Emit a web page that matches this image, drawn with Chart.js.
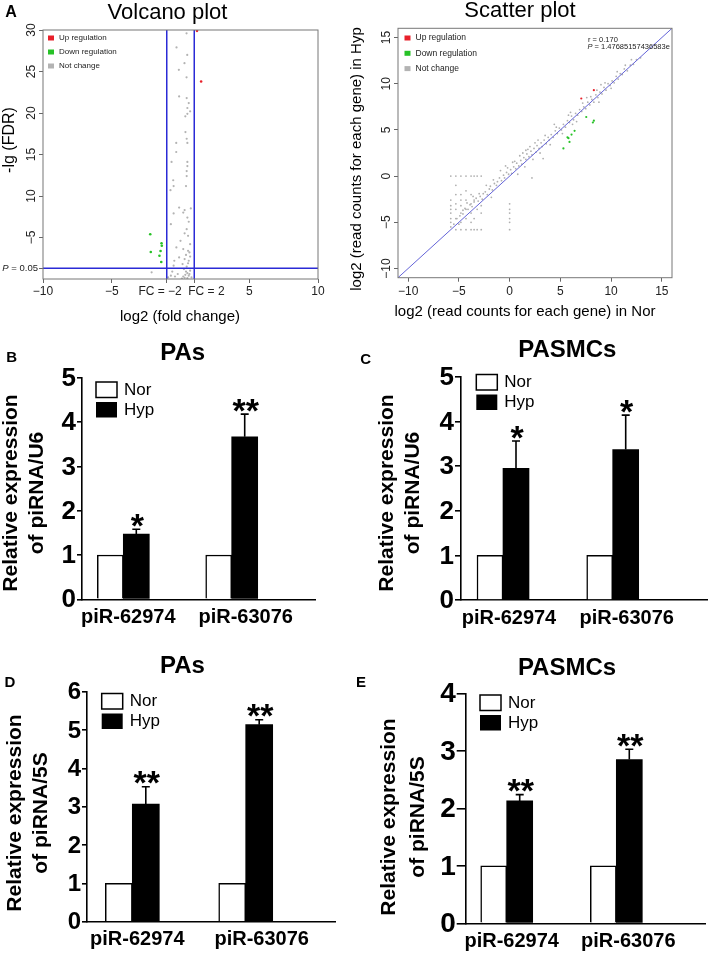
<!DOCTYPE html>
<html>
<head>
<meta charset="utf-8">
<script src="https://cdn.jsdelivr.net/npm/chart.js@4.4.1/dist/chart.umd.min.js"></script>
<style>
  body { margin: 0; background: #fff; }
  #page { position: relative; width: 709px; height: 954px; overflow: hidden; }
  #page canvas { position: absolute; left: 0; top: 0; }
</style>
</head>
<body>
<div id="page">
  <canvas id="volcano" width="709" height="954"></canvas>
  <canvas id="scatter" width="709" height="954"></canvas>
  <canvas id="panelB" width="709" height="954"></canvas>
  <canvas id="panelC" width="709" height="954"></canvas>
  <canvas id="panelD" width="709" height="954"></canvas>
  <canvas id="panelE" width="709" height="954"></canvas>
</div>
<script>
const FONT = '"Liberation Sans", Arial, Helvetica, sans-serif';

// ---- A: volcano plot (log2 fold change, -lg FDR) ----
const volcanoNotChange = [
  [0.44, 29.6], [-0.29, 27.9], [0.49, 27.0], [0.29, 26.0], [-0.12, 25.2], [0.44, 24.3],
  [-0.1, 22.0], [0.45, 21.8], [0.6, 21.2], [0.5, 20.6], [0.7, 20.2], [0.35, 19.6],
  [0.5, 19.9], [0.36, 17.7], [0.45, 16.9], [0.5, 16.4], [-0.31, 16.4], [-0.31, 15.3],
  [-0.65, 14.1], [0.5, 14.1], [0.5, 13.6], [0.45, 13.0], [0.45, 12.4], [-0.53, 11.9],
  [-0.5, 11.2], [0.4, 11.2], [-0.73, 10.7], [-0.1, 8.6], [0.3, 8.3], [0.75, 8.5],
  [0.2, 8.0], [-0.5, 7.9], [0.5, 7.4], [-0.7, 6.6], [0.6, 6.9], [0.45, 6.0],
  [0.3, 5.5], [0.55, 5.2], [0.0, 4.6], [0.7, 4.2], [-0.3, 3.8], [0.2, 3.6],
  [0.55, 3.4], [0.65, 3.2], [0.4, 2.9], [-0.1, 2.6], [0.3, 2.4], [0.6, 2.2],
  [0.15, 1.8], [0.45, 1.5], [0.7, 1.0], [-0.6, 0.9], [0.5, 0.7], [0.35, 0.5],
  [0.6, 0.4], [0.2, 0.3], [-0.9, 0.2], [0.8, 0.2], [-2.1, 0.8], [-0.4, 0.3],
  [0.5, 0.1], [0.1, 0.05], [-0.5, 1.6], [0.25, 1.2], [0.55, 1.9], [-0.2, 0.6],
  [0.4, 0.9], [0.65, 0.6], [0.3, 0.15], [-0.7, 0.4], [0.7, 2.7], [-0.45, 2.2]
];
const volcanoUp = [[1.5, 23.8], [1.2, 29.9]];
const volcanoDown = [[-2.2, 5.4], [-1.38, 4.3], [-1.36, 4.0], [-2.16, 3.25], [-1.45, 3.37], [-1.53, 2.8], [-1.4, 2.05]];
const volcanoXTicks = [-10, -5, -1, 1, 5, 10];
const volcanoXLabels = ['\u221210', '\u22125', 'FC = \u22122', 'FC = 2', '5', '10'];
const volcanoYTicks = [5, 10, 15, 20, 25, 30];
const volcanoYLabels = ['\u22125', '10', '15', '20', '25', '30'];
const fcCutoffs = [-1, 1];
const pCutoff = 1.3; // -lg(0.05)

// ---- A: scatter plot (log2 read counts, Nor vs Hyp) ----
const scatterNotChange = [
  [-5.5, -5.2], [-5.2, -4.6], [-4.9, -4.3], [-4.6, -4.1], [-4.4, -3.5], [-4.1, -3.6],
  [-3.9, -3.1], [-3.7, -3.3], [-3.5, -2.8], [-3.3, -2.4], [-3.1, -2.7], [-2.9, -2.2],
  [-2.7, -2.5], [-2.6, -1.9], [-2.4, -1.7], [-2.2, -2.0], [-2.0, -1.4], [-1.9, -1.1],
  [-1.7, -1.5], [-1.5, -0.8], [-1.3, -1.0], [-1.2, -0.6], [-1.0, -0.2], [-0.8, -0.5],
  [-0.6, 0.1], [-0.5, -0.2], [-0.3, 0.4], [-0.1, 0.2], [0.1, 0.7], [0.2, 0.3],
  [0.4, 1.0], [0.6, 0.8], [0.7, 1.4], [0.9, 1.1], [1.1, 1.7], [1.2, 1.3],
  [1.4, 2.0], [1.6, 1.8], [1.7, 2.4], [1.9, 2.1], [2.1, 2.7], [2.2, 2.3],
  [2.4, 3.0], [2.6, 2.6], [2.7, 3.3], [2.9, 3.0], [3.1, 3.6], [3.2, 3.2],
  [3.4, 3.9], [3.6, 3.5], [3.8, 4.2], [3.9, 3.9], [4.1, 4.5], [4.3, 4.2],
  [4.5, 4.9], [4.7, 4.6], [4.9, 5.2], [5.1, 5.0], [5.3, 5.6], [5.5, 5.3],
  [5.7, 6.0], [5.9, 5.8], [6.1, 6.5], [6.3, 6.1], [6.5, 6.8], [6.7, 6.6],
  [6.9, 7.2], [7.1, 7.0], [7.3, 7.5], [7.5, 7.3], [7.7, 8.0], [7.9, 7.7],
  [8.1, 8.3], [8.3, 8.0], [8.5, 8.8], [8.7, 8.5], [8.9, 9.1], [9.1, 8.9],
  [9.3, 9.6], [9.5, 9.3], [9.7, 10.0], [9.9, 9.8], [10.1, 10.3], [10.3, 10.1],
  [10.5, 10.8], [10.7, 10.5], [10.9, 11.1], [11.1, 11.0], [11.3, 11.6], [11.6, 11.4],
  [11.9, 12.0], [12.2, 12.1], [12.5, 12.6], [12.9, 12.8],
  [-0.2, 0.9], [0.5, 1.6], [1.0, 2.2], [1.8, 2.9], [2.5, 3.6], [3.0, 2.5],
  [3.5, 4.4], [4.0, 3.4], [4.6, 5.3], [5.2, 4.6], [6.0, 6.9], [6.6, 5.9],
  [7.2, 7.9], [8.0, 8.6], [8.6, 9.3], [9.4, 10.1], [10.0, 9.5], [10.6, 11.3],
  [11.4, 12.0], [-1.6, -0.4], [-2.3, -1.0], [-3.0, -1.9], [-3.6, -2.2], [-4.2, -2.9],
  [-0.9, 0.6], [-1.8, -2.3], [-2.8, -3.2], [0.8, 0.2], [1.5, 1.0], [2.3, 1.8],
  [4.4, 5.6], [5.8, 6.6], [7.6, 8.5], [9.0, 9.9], [12.0, 12.6], [8.8, 8.0],
  [6.2, 5.6], [2.2, -0.2], [3.3, 1.9], [-4.6, -3.7], [-5.0, -5.2], [-5.8, -5.5],
  [0.3, 1.5], [1.3, 2.5], [2.0, 3.2], [2.8, 3.9], [-0.4, 1.1], [1.6, 2.8],
  [-5.8, 0], [-5.3, 0], [-4.8, 0], [-4.3, 0], [-3.8, 0], [-3.5, 0], [-3.2, 0], [-2.8, 0],
  [-5.8, -2.6], [-5.8, -3.2], [-5.8, -3.6], [-5.8, -4.0], [-5.8, -4.6], [-5.8, -5.0],
  [-5.3, -1.0], [-5.3, -2.0], [-5.3, -3.0], [-5.3, -3.6], [-5.3, -4.6], [-5.3, -5.8],
  [-4.8, -2.0], [-4.8, -2.6], [-4.8, -3.2], [-4.8, -4.0], [-4.8, -5.0], [-4.8, -5.8],
  [-4.3, -1.6], [-4.3, -2.6], [-4.3, -3.6], [-4.3, -4.6], [-4.3, -5.8],
  [-3.8, -2.0], [-3.8, -3.0], [-3.8, -4.0], [-3.8, -5.0], [-3.8, -5.8],
  [-3.5, -2.6], [-3.5, -4.6], [-3.5, -5.8], [-3.2, -3.6], [-3.2, -5.8], [-2.8, -4.0], [-2.8, -5.8],
  [0.0, -3.0], [0.0, -3.6], [0.0, -4.0], [0.0, -4.6], [0.0, -5.0], [0.0, -5.8]
];
const scatterUp = [[7.06, 8.4], [8.3, 9.3]];
const scatterDown = [[7.55, 6.4], [8.2, 5.8], [8.3, 6.0], [6.4, 4.9], [6.1, 4.5], [5.7, 4.2], [5.9, 3.7], [5.3, 3.0], [5.8, 4.1]];
const scatterTicks = [-10, -5, 0, 5, 10, 15];
const scatterLabels = ['\u221210', '\u22125', '0', '5', '10', '15'];
const scatterRange = [-11, 16];

// ---- B-E: qPCR bars ----
const genes = ['piR-62974', 'piR-63076'];
const norPAsU6 = [1, 1];
const hypPAsU6 = [1.47, 3.67];
const errPAsU6 = [0.11, 0.51];
const starsPAsU6 = ['*', '**'];
const norPASMCsU6 = [1, 1];
const hypPASMCsU6 = [2.95, 3.37];
const errPASMCsU6 = [0.61, 0.77];
const starsPASMCsU6 = ['*', '*'];
const norPAs5S = [1, 1];
const hypPAs5S = [3.07, 5.14];
const errPAs5S = [0.45, 0.13];
const starsPAs5S = ['**', '**'];
const norPASMCs5S = [1, 1];
const hypPASMCs5S = [2.13, 2.85];
const errPASMCs5S = [0.11, 0.18];
const starsPASMCs5S = ['**', '**'];
const ticksU6 = [0, 1, 2, 3, 4, 5];
const ticksPAs5S = [0, 1, 2, 3, 4, 5, 6];
const ticksPASMCs5S = [0, 1, 2, 3, 4];

function pts(list) {
  return list.map(p => ({ x: p[0], y: p[1] }));
}

function pointSet(list, color, r) {
  return { data: pts(list), backgroundColor: color, borderWidth: 0, pointRadius: r, pointHoverRadius: r };
}

function lineSet(list, color, w) {
  return { data: pts(list), showLine: true, borderColor: color, borderWidth: w, pointRadius: 0, fill: false };
}

function text(ctx, str, x, y, font, opts) {
  opts = opts || {};
  ctx.save();
  ctx.font = font;
  ctx.fillStyle = opts.color || '#000';
  ctx.textAlign = opts.align || 'center';
  ctx.textBaseline = opts.baseline || 'middle';
  ctx.translate(x, y);
  if (opts.rotate) ctx.rotate(opts.rotate);
  ctx.fillText(str, 0, 0);
  ctx.restore();
}

// italic P followed by normal text, right or left anchored
function pText(ctx, rest, x, y, size, align) {
  ctx.save();
  ctx.font = 'italic ' + size + 'px ' + FONT;
  const wp = ctx.measureText('P').width;
  ctx.font = size + 'px ' + FONT;
  const wr = ctx.measureText(rest).width;
  const x0 = align === 'right' ? x - wp - wr : x;
  ctx.restore();
  text(ctx, 'P', x0, y, 'italic ' + size + 'px ' + FONT, { align: 'left', color: '#222' });
  text(ctx, rest, x0 + wp, y, size + 'px ' + FONT, { align: 'left', color: '#222' });
}

function squareLegend(ctx, x, y, gap, size, rows) {
  rows.forEach((r, i) => {
    ctx.fillStyle = r[0];
    ctx.fillRect(x, y + i * gap - 2.5, 6, 5);
    text(ctx, r[1], x + 11, y + i * gap, size + 'px ' + FONT, { align: 'left', color: '#222' });
  });
}

function rAxis(min, max, ticks) {
  return {
    type: 'linear', min: min, max: max,
    afterBuildTicks: s => { s.ticks = ticks.map(v => ({ value: v })); },
    ticks: { display: false },
    grid: { drawOnChartArea: false, drawTicks: true, tickLength: 4, color: '#666', lineWidth: 1 },
    border: { display: false }
  };
}

const baseOpts = {
  responsive: false,
  animation: false,
  devicePixelRatio: 1,
  events: [],
  plugins: { legend: { display: false }, tooltip: { enabled: false } }
};

// ---------- volcano ----------
const vArea = { left: 43, right: 318, top: 30, bottom: 279 };
new Chart(document.getElementById('volcano'), {
  type: 'scatter',
  data: {
    datasets: [
      lineSet([[fcCutoffs[0], 0], [fcCutoffs[0], 30]], '#2b2bd6', 1.5),
      lineSet([[fcCutoffs[1], 0], [fcCutoffs[1], 30]], '#2b2bd6', 1.5),
      lineSet([[-10, pCutoff], [10, pCutoff]], '#2b2bd6', 1.5),
      pointSet(volcanoUp, '#e8202a', 1.3),
      pointSet(volcanoDown, '#27c227', 1.3),
      pointSet(volcanoNotChange, '#b3b3b3', 1.1)
    ]
  },
  options: Object.assign({}, baseOpts, {
    layout: { autoPadding: false, padding: { left: vArea.left - 4, top: vArea.top, right: 709 - vArea.right, bottom: 954 - vArea.bottom - 4 } },
    scales: {
      x: rAxis(-10, 10, volcanoXTicks),
      y: rAxis(0, 30, [pCutoff].concat(volcanoYTicks))
    }
  }),
  plugins: [{
    id: 'volcanoDeco',
    afterDraw(chart) {
      const ctx = chart.ctx, a = chart.chartArea, xs = chart.scales.x, ys = chart.scales.y;
      ctx.save();
      ctx.strokeStyle = '#777';
      ctx.lineWidth = 1;
      ctx.strokeRect(a.left, a.top, a.right - a.left, a.bottom - a.top);
      ctx.restore();
      const f12 = '12px ' + FONT;
      volcanoXTicks.forEach((v, i) => {
        let x = xs.getPixelForValue(v), align = 'center';
        if (i === 2) { x += 15; align = 'right'; }
        if (i === 3) { x -= 6; align = 'left'; }
        text(ctx, volcanoXLabels[i], x, 292, f12, { align: align, color: '#222' });
      });
      volcanoYTicks.forEach((v, i) => {
        text(ctx, volcanoYLabels[i], 31.5, ys.getPixelForValue(v), f12, { rotate: -Math.PI / 2, color: '#222' });
      });
      pText(ctx, ' = 0.05', 38, ys.getPixelForValue(pCutoff), 9.5, 'right');
      text(ctx, 'A', 11, 13, 'bold 16px ' + FONT);
      text(ctx, 'Volcano plot', 167.5, 13, '22px ' + FONT);
      text(ctx, 'log2 (fold change)', 180, 316.5, '15px ' + FONT);
      text(ctx, '-lg (FDR)', 9.5, 140, '16px ' + FONT, { rotate: -Math.PI / 2 });
      squareLegend(ctx, 48, 38, 14, 8, [['#e8202a', 'Up regulation'], ['#27c227', 'Down regulation'], ['#b3b3b3', 'Not change']]);
    }
  }]
});

// ---------- scatter ----------
const sArea = { left: 398, right: 672, top: 28.3, bottom: 277.7 };
new Chart(document.getElementById('scatter'), {
  type: 'scatter',
  data: {
    datasets: [
      lineSet([[scatterRange[0], scatterRange[0]], [scatterRange[1], scatterRange[1]]], '#6464d8', 1),
      pointSet(scatterUp, '#e8202a', 1.1),
      pointSet(scatterDown, '#27c227', 1.1),
      pointSet(scatterNotChange, '#b0b0b0', 0.9)
    ]
  },
  options: Object.assign({}, baseOpts, {
    layout: { autoPadding: false, padding: { left: sArea.left - 4, top: sArea.top, right: 709 - sArea.right, bottom: 954 - sArea.bottom - 4 } },
    scales: {
      x: rAxis(scatterRange[0], scatterRange[1], scatterTicks),
      y: rAxis(scatterRange[0], scatterRange[1], scatterTicks)
    }
  }),
  plugins: [{
    id: 'scatterDeco',
    afterDraw(chart) {
      const ctx = chart.ctx, a = chart.chartArea, xs = chart.scales.x, ys = chart.scales.y;
      ctx.save();
      ctx.strokeStyle = '#777';
      ctx.lineWidth = 1;
      ctx.strokeRect(a.left, a.top, a.right - a.left, a.bottom - a.top);
      ctx.restore();
      const f12 = '12px ' + FONT;
      scatterTicks.forEach((v, i) => {
        text(ctx, scatterLabels[i], xs.getPixelForValue(v), 292, f12, { color: '#222' });
        text(ctx, scatterLabels[i], 386.5, ys.getPixelForValue(v), f12, { rotate: -Math.PI / 2, color: '#222' });
      });
      text(ctx, 'Scatter plot', 520, 11, '22px ' + FONT);
      text(ctx, 'log2 (read counts for each gene) in Nor', 525, 311.5, '15px ' + FONT);
      text(ctx, 'log2 (read counts for each gene) in Hyp', 357, 159, '15px ' + FONT, { rotate: -Math.PI / 2 });
      squareLegend(ctx, 404.5, 38, 15.3, 8.5, [['#e8202a', 'Up regulation'], ['#27c227', 'Down regulation'], ['#b3b3b3', 'Not change']]);
      text(ctx, 'r = 0.170', 588, 39.5, '7.5px ' + FONT, { align: 'left', color: '#222' });
      pText(ctx, ' = 1.47685157436583e', 587.5, 46.5, 7.5, 'left');
    }
  }]
});

// ---------- bar panels ----------
function barPanel(id, o) {
  const unit = o.centers[1] - o.centers[0];
  const xMin = 1 - (o.centers[0] - o.area.left) / unit;
  const xMax = 2 + (o.area.right - o.centers[1]) / unit;
  const yMax = o.yTicks[o.yTicks.length - 1];
  new Chart(document.getElementById(id), {
    type: 'bar',
    data: {
      datasets: [
        { label: 'Nor', data: o.nor.map((v, i) => ({ x: i + 1, y: v })), backgroundColor: '#fff', borderColor: '#000', borderWidth: 1.5, barThickness: o.barW },
        { label: 'Hyp', data: o.hyp.map((v, i) => ({ x: i + 1, y: v })), backgroundColor: '#000', borderColor: '#000', borderWidth: 0, barThickness: o.barW }
      ]
    },
    options: Object.assign({}, baseOpts, {
      layout: { autoPadding: false, padding: { left: o.area.left - o.tickLen, top: o.area.top, right: 709 - o.area.right, bottom: 954 - o.area.bottom } },
      scales: {
        x: {
          type: 'linear', min: xMin, max: xMax, offset: false,
          afterBuildTicks: s => { s.ticks = [{ value: 1 }, { value: 2 }]; },
          ticks: { display: false },
          grid: { display: false, drawTicks: false, offset: false },
          border: { display: true, color: '#000', width: 1.6 }
        },
        y: {
          type: 'linear', min: 0, max: yMax,
          afterBuildTicks: s => { s.ticks = o.yTicks.map(v => ({ value: v })); },
          ticks: { display: false },
          grid: { drawOnChartArea: false, drawTicks: true, tickLength: o.tickLen, color: '#000', lineWidth: 1.6 },
          border: { display: true, color: '#000', width: 1.6 }
        }
      }
    }),
    plugins: [{
      id: 'bars' + id,
      afterDatasetsDraw(chart) {
        const ctx = chart.ctx, ys = chart.scales.y;
        chart.getDatasetMeta(1).data.forEach((bar, i) => {
          const top = ys.getPixelForValue(o.hyp[i]);
          const up = ys.getPixelForValue(o.hyp[i] + o.err[i]);
          ctx.save();
          ctx.strokeStyle = '#000';
          ctx.lineWidth = 1.6;
          ctx.beginPath();
          ctx.moveTo(bar.x, top);
          ctx.lineTo(bar.x, up);
          ctx.moveTo(bar.x - 4, up);
          ctx.lineTo(bar.x + 4, up);
          ctx.stroke();
          ctx.restore();
          // asterisk glyph sits ~0.58em above the baseline
          text(ctx, o.stars[i], bar.x + 1, up - 12 + 34 * 0.58, 'bold 34px ' + FONT, { baseline: 'alphabetic' });
        });
      },
      afterDraw(chart) {
        const ctx = chart.ctx, xs = chart.scales.x, ys = chart.scales.y, a = chart.chartArea;
        o.yTicks.forEach(v => {
          text(ctx, String(v), a.left - o.tickLen - 1, ys.getPixelForValue(v) + 1, 'bold ' + o.tickFont + 'px ' + FONT, { align: 'right' });
        });
        genes.forEach((g, i) => {
          text(ctx, g, xs.getPixelForValue(i + 1) + o.labelShift[i], a.bottom + 18, 'bold 20px ' + FONT);
        });
        text(ctx, o.title, o.titlePos[0], o.titlePos[1], 'bold 24px ' + FONT);
        text(ctx, o.letter, o.letterPos[0], o.letterPos[1], 'bold 15px ' + FONT);
        text(ctx, 'Relative expression', o.yLabelX[0], o.yLabelY, 'bold 21px ' + FONT, { rotate: -Math.PI / 2 });
        text(ctx, o.yLabel2, o.yLabelX[1], o.yLabelY, 'bold 21px ' + FONT, { rotate: -Math.PI / 2 });
        const lx = o.legendPos[0], ly = o.legendPos[1];
        ctx.save();
        ctx.lineWidth = 1.5;
        ctx.strokeStyle = '#000';
        ctx.fillStyle = '#fff';
        ctx.fillRect(lx, ly, 21, 15.5);
        ctx.strokeRect(lx, ly, 21, 15.5);
        ctx.fillStyle = '#000';
        ctx.fillRect(lx, ly + 20, 21, 15.5);
        ctx.restore();
        text(ctx, 'Nor', lx + 28, ly + 8, '17px ' + FONT, { align: 'left' });
        text(ctx, 'Hyp', lx + 28, ly + 28, '17px ' + FONT, { align: 'left' });
      }
    }]
  });
}

barPanel('panelB', {
  nor: norPAsU6, hyp: hypPAsU6, err: errPAsU6, stars: starsPAsU6, yTicks: ticksU6,
  area: { left: 82, right: 315, top: 377.8, bottom: 599.3 }, centers: [123.3, 231.7],
  barW: 26, tickLen: 5, tickFont: 26, labelShift: [5, 14],
  title: 'PAs', titlePos: [182.7, 353.3], letter: 'B', letterPos: [11.7, 358.3],
  yLabel2: 'of piRNA/U6', yLabelX: [11, 37], yLabelY: 493, legendPos: [96, 382]
});
barPanel('panelC', {
  nor: norPASMCsU6, hyp: hypPASMCsU6, err: errPASMCsU6, stars: starsPASMCsU6, yTicks: ticksU6,
  area: { left: 461, right: 707, top: 376.7, bottom: 600 }, centers: [503, 612.7],
  barW: 26, tickLen: 6, tickFont: 26, labelShift: [6, 14],
  title: 'PASMCs', titlePos: [567.3, 350], letter: 'C', letterPos: [365.7, 360],
  yLabel2: 'of piRNA/U6', yLabelX: [387.5, 413], yLabelY: 493, legendPos: [476.3, 374.5]
});
barPanel('panelD', {
  nor: norPAs5S, hyp: hypPAs5S, err: errPAs5S, stars: starsPAs5S, yTicks: ticksPAs5S,
  area: { left: 87, right: 335, top: 691.7, bottom: 921.7 }, centers: [132.3, 245.7],
  barW: 27, tickLen: 5, tickFont: 24, labelShift: [5, 16],
  title: 'PAs', titlePos: [182.5, 666.7], letter: 'D', letterPos: [10, 683.3],
  yLabel2: 'of piRNA/5S', yLabelX: [15.7, 41.7], yLabelY: 813, legendPos: [101.7, 693.5]
});
barPanel('panelE', {
  nor: norPASMCs5S, hyp: hypPASMCs5S, err: errPASMCs5S, stars: starsPASMCs5S, yTicks: ticksPASMCs5S,
  area: { left: 465.7, right: 705.7, top: 693.5, bottom: 923.3 }, centers: [506.7, 616.3],
  barW: 26, tickLen: 9, tickFont: 28, labelShift: [5, 12],
  title: 'PASMCs', titlePos: [567, 668.3], letter: 'E', letterPos: [361, 683.3],
  yLabel2: 'of piRNA/5S', yLabelX: [389, 418], yLabelY: 817, legendPos: [480, 695]
});
</script>
</body>
</html>
